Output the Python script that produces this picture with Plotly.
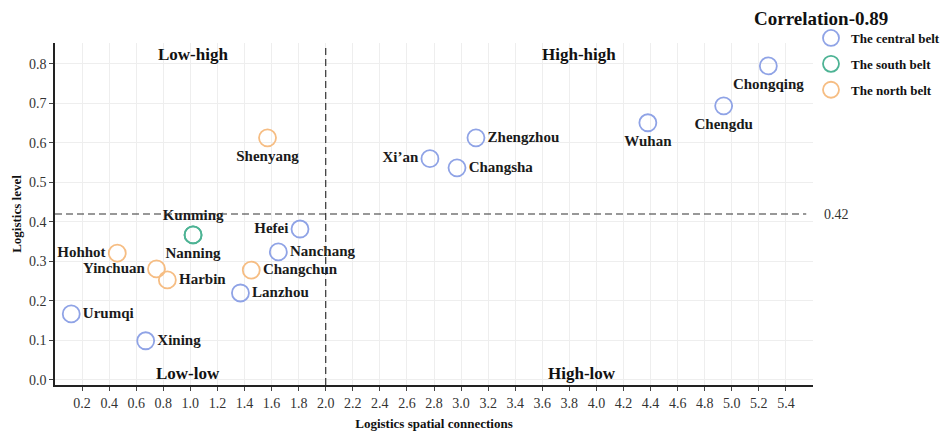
import plotly.graph_objects as go

# Logistics spatial connections (x) vs logistics level (y) for each city
central_cities = ["Chongqing", "Chengdu", "Wuhan", "Zhengzhou", "Xi’an", "Changsha",
                  "Hefei", "Nanchang", "Lanzhou", "Urumqi", "Xining"]
central_x = [5.27, 4.94, 4.38, 3.11, 2.77, 2.97, 1.81, 1.65, 1.37, 0.12, 0.67]
central_y = [0.795, 0.694, 0.651, 0.613, 0.560, 0.537, 0.382, 0.324, 0.220, 0.167, 0.099]
central_pos = ["bottom center", "bottom center", "bottom center", "middle right", "middle left",
               "middle right", "middle left", "middle right", "middle right", "middle right",
               "middle right"]

south_cities = ["Kunming", "Nanning"]
south_x = [1.02, 1.02]
south_y = [0.367, 0.367]
south_pos = ["top center", "bottom center"]

north_cities = ["Shenyang", "Changchun", "Hohhot", "Yinchuan", "Harbin"]
north_x = [1.57, 1.45, 0.46, 0.75, 0.83]
north_y = [0.613, 0.278, 0.321, 0.281, 0.253]
north_pos = ["bottom center", "middle right", "middle left", "middle left", "middle right"]

x_ticks = [0.2, 0.4, 0.6, 0.8, 1.0, 1.2, 1.4, 1.6, 1.8, 2.0, 2.2, 2.4, 2.6, 2.8, 3.0,
           3.2, 3.4, 3.6, 3.8, 4.0, 4.2, 4.4, 4.6, 4.8, 5.0, 5.2, 5.4]
y_ticks = [0.0, 0.1, 0.2, 0.3, 0.4, 0.5, 0.6, 0.7, 0.8]

x_split = 2.0
y_split = 0.42
correlation = 0.89

SERIF = "Liberation Serif"
BLUE = "#8fa3e6"
GREEN = "#4db394"
ORANGE = "#f6bd83"
DASH = "7px,4px"

fig = go.Figure()

series = [
    ("The central belt", central_cities, central_x, central_y, central_pos, BLUE),
    ("The south belt", south_cities, south_x, south_y, south_pos, GREEN),
    ("The north belt", north_cities, north_x, north_y, north_pos, ORANGE),
]
for name, cities, xs, ys, pos, color in series:
    fig.add_trace(go.Scatter(
        x=xs, y=ys, name=name, legendgroup=name,
        mode="markers+text", text=cities, textposition=pos,
        textfont=dict(family=SERIF, size=15, color="#1a1a1a", weight="bold"),
        marker=dict(symbol="circle-open", size=17, color=color, line=dict(width=1.8, color=color)),
        cliponaxis=False,
    ))

# Quadrant dividers
fig.add_shape(type="line", x0=x_split, x1=x_split, y0=0, y1=0.995, xref="x", yref="paper",
              line=dict(color="#333333", width=1.2, dash=DASH))
fig.add_shape(type="line", x0=0, x1=5.55, y0=y_split, y1=y_split, xref="x", yref="y",
              line=dict(color="#333333", width=1.2, dash=DASH))

annotations = [
    dict(x=1.02, y=1.0, xref="x", yref="paper", text="Low-high", yanchor="top"),
    dict(x=3.87, y=1.0, xref="x", yref="paper", text="High-high", yanchor="top"),
    dict(x=0.98, y=0.0, xref="x", yref="paper", text="Low-low", yanchor="bottom"),
    dict(x=3.89, y=0.0, xref="x", yref="paper", text="High-low", yanchor="bottom"),
]
for a in annotations:
    fig.add_annotation(**a, showarrow=False,
                       font=dict(family=SERIF, size=17, color="#111111", weight="bold"))

fig.add_annotation(x=1.0, y=y_split, xref="paper", yref="y", text=f"{y_split:.2f}",
                   xanchor="left", xshift=9, showarrow=False,
                   font=dict(family=SERIF, size=14, color="#333333"))
fig.add_annotation(x=1.1016, y=1.073, xref="paper", yref="paper",
                   text=f"Correlation-{correlation:.2f}",
                   xanchor="right", yanchor="middle", showarrow=False,
                   font=dict(family=SERIF, size=19, color="#111111", weight="bold"))

fig.update_xaxes(
    range=[0, 5.6], tickvals=x_ticks, ticktext=[f"{v:.1f}" for v in x_ticks],
    showline=True, linecolor="#222222", linewidth=1.5,
    ticks="outside", ticklen=4, tickcolor="#444444",
    showgrid=True, gridcolor="#eeeeee", gridwidth=1, zeroline=False,
    tickfont=dict(family=SERIF, size=14, color="#333333"),
    title=dict(text="Logistics spatial connections", standoff=9,
               font=dict(family=SERIF, size=13, color="#111111", weight="bold")),
)
fig.update_yaxes(
    range=[-0.013, 0.853], tickvals=y_ticks, ticktext=[f"{v:.1f}" for v in y_ticks],
    showline=True, linecolor="#222222", linewidth=1.5,
    ticks="outside", ticklen=4, tickcolor="#444444",
    showgrid=True, gridcolor="#eeeeee", gridwidth=1, zeroline=False,
    tickfont=dict(family=SERIF, size=14, color="#333333"),
    title=dict(text="Logistics level", standoff=4,
               font=dict(family=SERIF, size=13, color="#111111", weight="bold")),
)

fig.update_layout(
    width=944, height=431,
    margin=dict(l=55, r=131, t=43, b=46, autoexpand=False),
    paper_bgcolor="white", plot_bgcolor="white",
    showlegend=True,
    legend=dict(xref="container", yref="container", x=811 / 944, y=1 - 23 / 431,
                xanchor="left", yanchor="top",
                font=dict(family=SERIF, size=13, color="#111111", weight="bold"),
                tracegroupgap=6, bgcolor="rgba(0,0,0,0)"),
)

fig.write_html("out.html")
